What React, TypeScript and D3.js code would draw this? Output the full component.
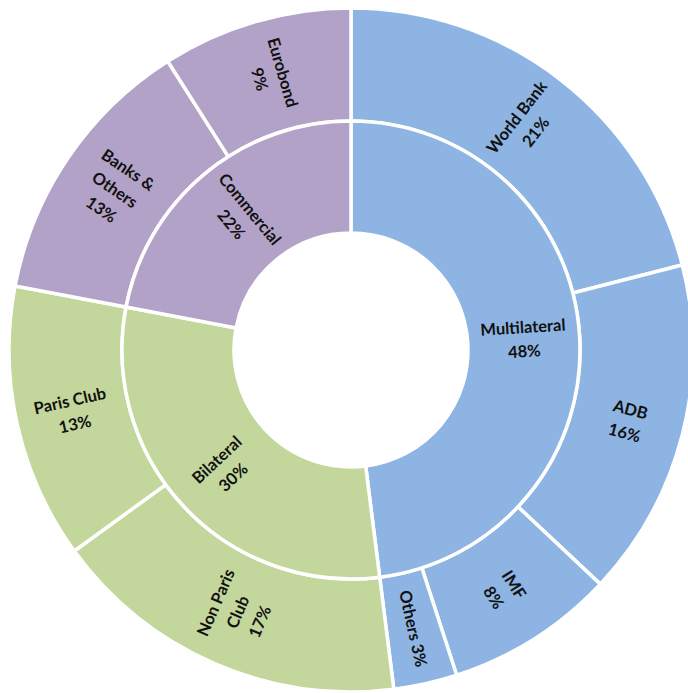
import React from "react";
import * as d3 from "d3";

// inner ring: lender groups
const groups = ["Multilateral", "Bilateral", "Commercial"];
const groupShares = [48, 30, 22];
const groupColors = ["#8DB4E2", "#C3D69B", "#B3A2C7"];

// outer ring: lenders, in the same order as the groups
const lenders = ["World Bank", "ADB", "IMF", "Others", "Non Paris|Club", "Paris Club", "Banks &|Others", "Eurobond"];
const lenderShares = [21, 16, 8, 3, 17, 13, 13, 9];
const lenderGroup = ["Multilateral", "Multilateral", "Multilateral", "Multilateral", "Bilateral", "Bilateral", "Commercial", "Commercial"];
const inlinePct = ["Others"];

const width = 688;
const height = 693;
const cx = 351;
const cy = 350;
const r0 = 117;
const r1 = 229;
const r2 = 342;
const lineHeight = 24;

type Slice = { name: string; value: number; color: string };

const pie = d3
  .pie<Slice>()
  .value((d) => d.value)
  .sort(null);

const rotation = (d: d3.PieArcDatum<Slice>) => {
  const mid = ((d.startAngle + d.endAngle) / 2) * (180 / Math.PI);
  let rot = mid - 90;
  if (rot > 90) rot -= 180;
  return rot;
};

const Ring = ({ slices, inner, outer }: { slices: Slice[]; inner: number; outer: number }) => {
  const arc = d3.arc<d3.PieArcDatum<Slice>>().innerRadius(inner).outerRadius(outer);
  const arcs = pie(slices);
  return (
    <g>
      {arcs.map((d, i) => (
        <path key={"p" + i} d={arc(d) || ""} fill={d.data.color} stroke="#fff" strokeWidth={3.5} />
      ))}
      {arcs.map((d, i) => {
        const [x, y] = arc.centroid(d);
        const base = d.data.name.split("|");
        const pct = `${d.data.value}%`;
        const lines = inlinePct.includes(d.data.name)
          ? [`${base[0]} ${pct}`]
          : [...base, pct];
        const start = (-(lines.length - 1) / 2) * lineHeight;
        return (
          <text
            key={"t" + i}
            transform={`translate(${x},${y}) rotate(${rotation(d)})`}
            textAnchor="middle"
            dominantBaseline="central"
            fontFamily="Lato, 'Open Sans', sans-serif"
            fontWeight="bold"
            fontSize={16.5}
            fill="#111"
          >
            {lines.map((l, j) => (
              <tspan key={j} x={0} y={start + j * lineHeight}>
                {l}
              </tspan>
            ))}
          </text>
        );
      })}
    </g>
  );
};

export default function App() {
  const inner: Slice[] = groups.map((g, i) => ({ name: g, value: groupShares[i], color: groupColors[i] }));
  const outer: Slice[] = lenders.map((l, i) => ({
    name: l,
    value: lenderShares[i],
    color: groupColors[groups.indexOf(lenderGroup[i])],
  }));
  return (
    <svg
      width={width}
      height={height}
      style={{ position: "absolute", left: 0, top: 0, background: "#fff" }}
    >
      <g transform={`translate(${cx},${cy})`}>
        <Ring slices={outer} inner={r1} outer={r2} />
        <Ring slices={inner} inner={r0} outer={r1} />
      </g>
    </svg>
  );
}
